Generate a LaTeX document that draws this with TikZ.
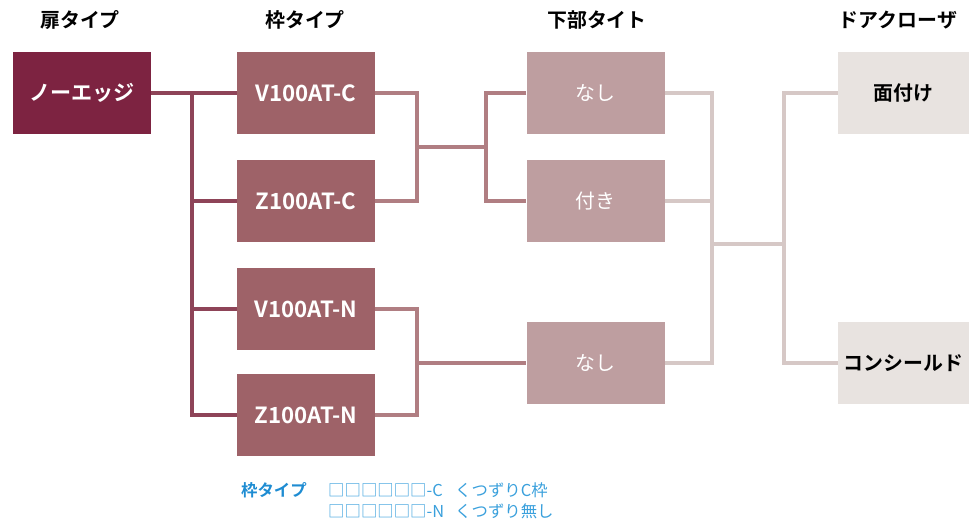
\documentclass[tikz,border=0pt]{standalone}
\usepackage{fontspec}
\setmainfont{Noto Sans CJK JP}[BoldFont={Noto Sans CJK JP Bold}]
\usepackage{tikz}

\definecolor{doorcol}{RGB}{125,35,65}
\definecolor{framecol}{RGB}{158,98,104}
\definecolor{sillcol}{RGB}{190,158,160}
\definecolor{closercol}{RGB}{232,227,224}
\definecolor{linkA}{RGB}{142,68,88}
\definecolor{linkB}{RGB}{176,126,130}
\definecolor{linkC}{RGB}{214,200,198}
\definecolor{legblue}{RGB}{30,140,210}
\definecolor{legtext}{RGB}{58,160,220}

\tikzset{
  box/.style={rectangle, minimum width=4.14cm, minimum height=2.46cm, inner sep=0pt},
  head/.style={font=\fontsize{17}{18}\selectfont\bfseries, text=black},
  lnk/.style={line width=3.4pt}
}

\begin{document}
\begin{tikzpicture}[x=0.03cm, y=-0.03cm]
  \useasboundingbox (0,0) rectangle (969,526);

  % column titles
  \node[head] (h1) at (80,20) {扉タイプ};
  \node[head] (h2) at (305,20) {枠タイプ};
  \node[head] (h3) at (597,20) {下部タイト};
  \node[head] (h4) at (898,20) {ドアクローザ};

  % boxes
  \node[box, fill=doorcol, text=white, font=\fontsize{18}{20}\selectfont\bfseries] (door) at (82,93) {ノーエッジ};
  \node[box, fill=framecol, text=white, font=\fontsize{19}{20}\selectfont\bfseries] (f1) at (306,93) {V100AT-C};
  \node[box, fill=framecol, text=white, font=\fontsize{19}{20}\selectfont\bfseries] (f2) at (306,201) {Z100AT-C};
  \node[box, fill=framecol, text=white, font=\fontsize{19}{20}\selectfont\bfseries] (f3) at (306,309) {V100AT-N};
  \node[box, fill=framecol, text=white, font=\fontsize{19}{20}\selectfont\bfseries] (f4) at (306,415) {Z100AT-N};
  \node[box, fill=sillcol, text=white, font=\fontsize{17}{18}\selectfont] (b1) at (595.5,93) {なし};
  \node[box, fill=sillcol, text=white, font=\fontsize{17}{18}\selectfont] (b2) at (595.5,201) {付き};
  \node[box, fill=sillcol, text=white, font=\fontsize{17}{18}\selectfont] (b3) at (595.5,363) {なし};
  \node[box, minimum width=3.93cm, fill=closercol, text=black, font=\fontsize{17}{18}\selectfont\bfseries] (c1) at (903.5,93) {面付け};
  \node[box, minimum width=3.93cm, fill=closercol, text=black, font=\fontsize{17}{18}\selectfont\bfseries] (c2) at (903.5,363) {コンシールド};

  % junctions
  \coordinate (m0) at (192,93);
  \coordinate (m1) at (417,147);
  \coordinate (m2) at (486,147);
  \coordinate (m3) at (417,363);
  \coordinate (m4) at (712,244);
  \coordinate (m5) at (784,244);

  % links
  \draw[lnk, linkA] (door.east) -- (f1.west);
  \draw[lnk, linkA] (m0) |- (f4.west);
  \draw[lnk, linkA] (m0 |- f2) -- (f2.west);
  \draw[lnk, linkA] (m0 |- f3) -- (f3.west);

  \draw[lnk, linkB] (f1.east) -| (m1) |- (f2.east);
  \draw[lnk, linkB] (m1) -- (m2);
  \draw[lnk, linkB] (b1.west) -| (m2) |- (b2.west);
  \draw[lnk, linkB] (f3.east) -| (m3) |- (f4.east);
  \draw[lnk, linkB] (m3) -- (b3.west);

  \draw[lnk, linkC] (b1.east) -| (m4) |- (b3.east);
  \draw[lnk, linkC] (b2.east) -- (b2.east -| m4);
  \draw[lnk, linkC] (m4) -- (m5);
  \draw[lnk, linkC] (c1.west) -| (m5) |- (c2.west);

  % legend
  \node[anchor=west, text=legblue, font=\fontsize{14}{15}\selectfont\bfseries] (lg) at (237,490) {枠タイプ};
  \node[anchor=west, text=legtext, font=\fontsize{14}{15}\selectfont, inner xsep=0pt] (lc1) at (328,490) {□□□□□□-C};
  \node[anchor=west, text=legtext, font=\fontsize{14}{15}\selectfont, inner xsep=0pt] (ld1) at (455,490) {くつずりC枠};
  \node[anchor=west, text=legtext, font=\fontsize{14}{15}\selectfont, inner xsep=0pt] (lc2) at (328,511) {□□□□□□-N};
  \node[anchor=west, text=legtext, font=\fontsize{14}{15}\selectfont, inner xsep=0pt] (ld2) at (455,511) {くつずり無し};
\end{tikzpicture}
\end{document}
